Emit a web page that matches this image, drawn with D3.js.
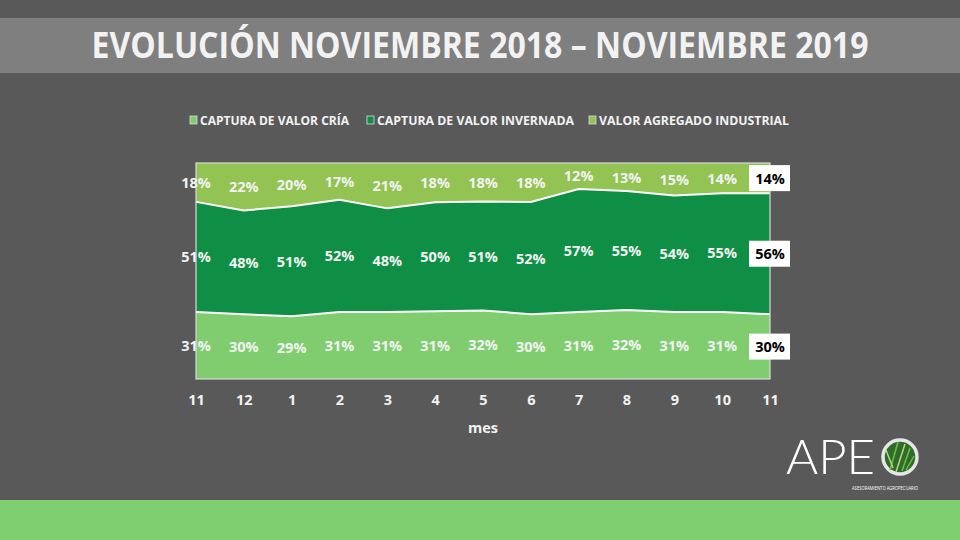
<!DOCTYPE html>
<html><head><meta charset="utf-8">
<script src="https://cdn.jsdelivr.net/npm/d3@7"></script>
<style>html,body{margin:0;padding:0;background:#595959;}svg{display:block;}</style>
</head><body>
<svg id="c" width="960" height="540"></svg>
<script>
const months = ["11","12","1","2","3","4","5","6","7","8","9","10","11"];
const seriesNames = ["CAPTURA DE VALOR CRÍA","CAPTURA DE VALOR INVERNADA","VALOR AGREGADO INDUSTRIAL"];
const cria = [31,30,29,31,31,31,32,30,31,32,31,31,30];
const invernada = [51,48,51,52,48,50,51,52,57,55,54,55,56];
const industrial = [18,22,20,17,21,18,18,18,12,13,15,14,14];
const colors = ["#80cd70","#0e8f45","#92c353"];

const svg = d3.select("#c");
const FONT = "'Open Sans', 'DejaVu Sans', sans-serif";

svg.append("rect").attr("width",960).attr("height",540).attr("fill","#595959");
svg.append("rect").attr("x",0).attr("y",18).attr("width",960).attr("height",55).attr("fill","#7f7f7f");
svg.append("text").attr("x",480).attr("y",58).attr("text-anchor","middle")
  .attr("font-family",FONT).attr("font-weight",700).attr("font-size",35)
  .attr("fill","#f2f2f2").attr("textLength",777).attr("lengthAdjust","spacingAndGlyphs")
  .text("EVOLUCIÓN NOVIEMBRE 2018 – NOVIEMBRE 2019");
svg.append("rect").attr("x",0).attr("y",500).attr("width",960).attr("height",40).attr("fill","#7fce6f");

// legend
const legX = [190,367,589], legW = [149,197,190];
seriesNames.forEach((n,i)=>{
  svg.append("rect").attr("x",legX[i]).attr("y",116).attr("width",7).attr("height",8)
    .attr("fill",colors[i]).attr("stroke","#d9d9d9").attr("stroke-width",0.8);
  svg.append("text").attr("x",legX[i]+10).attr("y",124.5)
    .attr("font-family",FONT).attr("font-weight",700).attr("font-size",11.5)
    .attr("fill","#f2f2f2").attr("textLength",legW[i]).attr("lengthAdjust","spacingAndGlyphs").text(n);
});

const data = months.map((m,i)=>({i, cria:cria[i], invernada:invernada[i], industrial:industrial[i]}));
const keys = ["cria","invernada","industrial"];
const stack = d3.stack().keys(keys).offset(d3.stackOffsetExpand);
const layers = stack(data);

const x = d3.scaleLinear().domain([0,months.length-1]).range([196,770]);
const y = d3.scaleLinear().domain([0,1]).range([379,163]);

const area = d3.area().x(d=>x(d.data.i)).y0(d=>y(d[0])).y1(d=>y(d[1]));
svg.append("g").selectAll("path").data(layers).join("path")
  .attr("d",area).attr("fill",(d,i)=>colors[i]);
const line = d3.line().x(d=>x(d.data.i)).y(d=>y(d[1]));
svg.append("g").selectAll("path").data(layers.slice(0,2)).join("path")
  .attr("d",line).attr("fill","none").attr("stroke","#ffffff").attr("stroke-width",2);
svg.append("rect").attr("x",196).attr("y",163).attr("width",574).attr("height",216)
  .attr("fill","none").attr("stroke","#d9d9d9").attr("stroke-width",1.2);

// labels
const raw = {cria, invernada, industrial};
layers.forEach((layer,k)=>{
  layer.forEach((d,i)=>{
    const cy = y((d[0]+d[1])/2);
    const last = i===months.length-1;
    const txt = raw[keys[k]][i]+"%";
    if(last){
      svg.append("rect").attr("x",749).attr("y",cy-13).attr("width",41).attr("height",26).attr("fill","#ffffff");
    }
    svg.append("text").attr("x",x(i)).attr("y",cy+5.5).attr("text-anchor","middle")
      .attr("font-family",FONT).attr("font-weight",700).attr("font-size",14.5)
      .attr("fill", last?"#000000":"#f2f2f2").text(txt);
  });
});

// x axis
const xa = svg.append("g").attr("transform","translate(0,379)")
  .call(d3.axisBottom(x).tickValues(d3.range(months.length)).tickFormat(i=>months[i]).tickSize(0).tickPadding(16));
xa.select(".domain").remove();
xa.selectAll("text").attr("font-family",FONT).attr("font-weight",700).attr("font-size",14.5).attr("fill","#f2f2f2");
svg.append("text").attr("x",483).attr("y",433).attr("text-anchor","middle")
  .attr("font-family",FONT).attr("font-weight",700).attr("font-size",14.5).attr("fill","#f2f2f2").text("mes");

// logo
const lg = svg.append("g");
lg.append("text").attr("x",786).attr("y",474).attr("font-family","Lato, 'Open Sans', sans-serif")
  .attr("font-weight",300).attr("font-size",48).attr("fill","#ffffff")
  .attr("textLength",89).attr("lengthAdjust","spacingAndGlyphs").text("APE");
lg.append("circle").attr("cx",900).attr("cy",457).attr("r",17).attr("fill","#2f6b2a").attr("stroke","#e6e6e6").attr("stroke-width",3.5);
[[890,470,898,442],[896,472,905,444],[902,471,910,448],[893,468,886,450],[906,470,914,456]].forEach((s,i)=>{
  lg.append("line").attr("x1",s[0]).attr("y1",s[1]).attr("x2",s[2]).attr("y2",s[3])
    .attr("stroke",i%2?"#b7d77a":"#6fbf4a").attr("stroke-width",1.5);
});
lg.append("text").attr("x",852).attr("y",490).attr("font-family",FONT).attr("font-size",5).attr("fill","#ffffff")
  .attr("textLength",66).attr("lengthAdjust","spacingAndGlyphs").text("ASESORAMIENTO AGROPECUARIO");
</script>
</body></html>
